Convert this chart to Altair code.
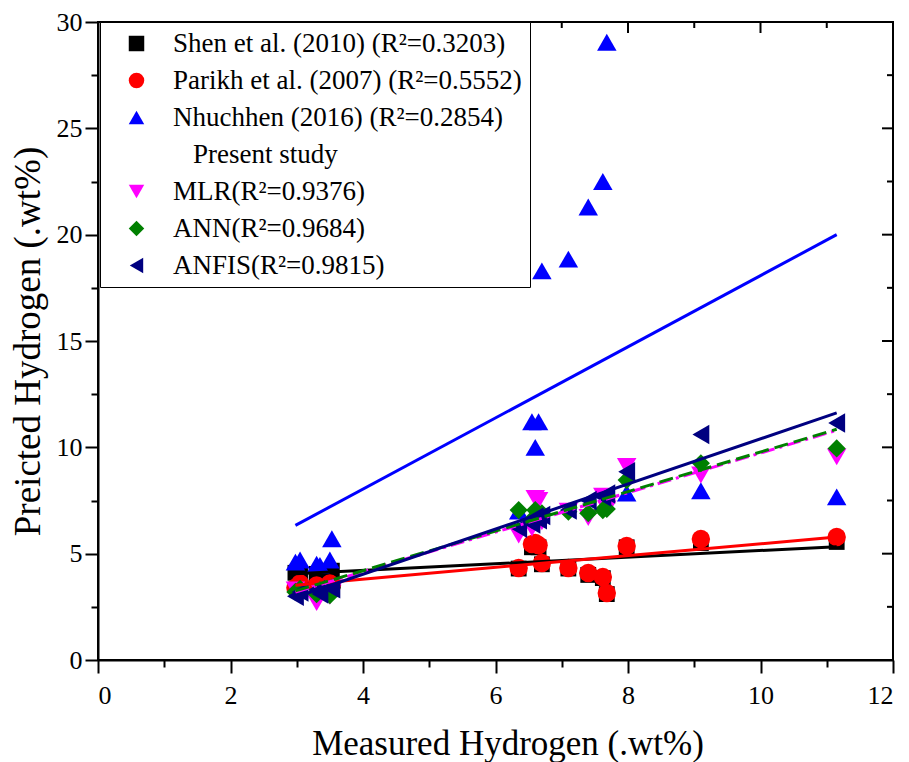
import altair as alt
import pandas as pd

# ---------------- data ----------------
measured = [2.98, 3.05, 3.3, 3.35, 3.5, 3.53,
            6.35, 6.55, 6.6, 6.65, 6.7, 7.1, 7.4, 7.62, 7.68, 7.98,
            9.1, 11.15]
shen = [4.1, 4.0, 4.05, 3.9, 4.1, 4.2,
        4.3, 5.3, 5.4, 5.3, 4.5, 4.3, 4.0, 3.85, 3.1, 5.3,
        5.5, 5.55]
parikh = [3.4, 3.6, 3.5, 3.3, 3.6, 3.5,
          4.33, 5.45, 5.5, 5.4, 4.56, 4.33, 4.09, 3.9, 3.15, 5.36,
          5.69, 5.78]
nhuchhen = [4.6, 4.7, 4.5, 4.45, 4.7, 5.7,
            7.0, 11.2, 10.0, 11.2, 18.3, 18.85, 21.3, 22.5, 29.05, 7.85,
            7.96, 7.67]
mlr = [3.3, 3.1, 2.7, 3.2, 3.0, 3.2,
       5.88, 6.2, 7.6, 7.5, 6.5, 7.0, 6.7, 7.7, 7.1, 9.1,
       8.7, 9.55]
ann = [3.2, 3.35, 3.1, 3.3, 3.05, 3.4,
       7.05, 6.6, 7.05, 6.85, 6.9, 6.97, 6.9, 7.05, 7.1, 8.46,
       9.25, 9.95]
anfis = [3.0, 3.2, 3.3, 3.1, 3.4, 3.35,
         6.2, 6.4, 6.72, 6.6, 6.8, 7.05, 7.5, 7.66, 7.8, 8.85,
         10.6, 11.14]

labels = ["Shen et al. (2010) (R\u00b2=0.3203)",
          "Parikh et al. (2007) (R\u00b2=0.5552)",
          "Nhuchhen (2016) (R\u00b2=0.2854)",
          "\u2800Present study",
          "MLR(R\u00b2=0.9376)",
          "ANN(R\u00b2=0.9684)",
          "ANFIS(R\u00b2=0.9815)"]

# fitted lines (end points)
fit_x = [2.98, 11.15]
fit_shen = [4.05, 5.33]
fit_parikh = [3.52, 5.78]
fit_nhuchhen = [6.33, 20.0]
fit_mlr = [3.2, 10.8]
fit_ann = [3.25, 10.85]
fit_anfis = [2.95, 11.62]

x_ticks = [0, 1, 2, 3, 4, 5, 6, 7, 8, 9, 10, 11, 12]
x_major = [0, 2, 4, 6, 8, 10, 12]
x_minor = [1, 3, 5, 7, 9, 11]
y_ticks = [0, 2.5, 5, 7.5, 10, 12.5, 15, 17.5, 20, 22.5, 25, 27.5, 30]
y_major = [0, 5, 10, 15, 20, 25, 30]
y_minor = [2.5, 7.5, 12.5, 17.5, 22.5, 27.5]

# ---------------- styles ----------------
colors = ["#000000", "#ff0000", "#0000ff", "transparent", "#ff00ff", "#008000", "#000080"]
shapes = ["square", "circle", "triangle-up", "circle", "triangle-down", "diamond", "triangle-left"]
sizes = {0: 250, 1: 340, 2: 380, 4: 380, 5: 330, 6: 380}
FONT = "Liberation Serif"
W, H = 795, 638

xs = alt.Scale(domain=[0, 12], nice=False, zero=False)
ys = alt.Scale(domain=[0, 30], nice=False, zero=False)
color_scale = alt.Scale(domain=labels, range=colors)
shape_scale = alt.Scale(domain=labels, range=shapes)

leg = alt.Legend(title=None, orient="none", legendX=2, legendY=0, direction="vertical",
                 labelFont=FONT, labelFontSize=27, labelColor="black", labelLimit=600,
                 symbolSize=240, symbolStrokeWidth=0, padding=8, rowPadding=9,
                 symbolOffset=15, labelOffset=23, strokeColor="black", fillColor="white")

x_axis = alt.Axis(values=x_ticks, labelExpr="datum.value % 2 == 0 ? datum.label : ''",
                  tickSize={"condition": {"test": "datum.value % 2 == 0", "value": 13}, "value": 7},
                  grid=False, domainColor="black", domainWidth=2, tickColor="black", tickWidth=2,
                  labelFont=FONT, labelFontSize=26, labelColor="black", labelPadding=9,
                  title="Measured Hydrogen (.wt%)", titleFont=FONT, titleFontSize=35,
                  titleFontWeight="normal", titleColor="black", titlePadding=18,
                  titleX=W / 2 + 12)
y_axis = alt.Axis(values=y_ticks, labelExpr="datum.value % 5 == 0 ? datum.label : ''",
                  tickSize={"condition": {"test": "datum.value % 5 == 0", "value": 13}, "value": 7},
                  grid=False, domainColor="black", domainWidth=2, tickColor="black", tickWidth=2,
                  labelFont=FONT, labelFontSize=26, labelColor="black", labelPadding=3,
                  title="Preicted Hydrogen (.wt%)", titleFont=FONT, titleFontSize=37,
                  titleFontWeight="normal", titleColor="black", titlePadding=9)

X = alt.X("x:Q", scale=xs, axis=x_axis)
Y = alt.Y("y:Q", scale=ys, axis=y_axis)

series_vals = [shen, parikh, nhuchhen, None, mlr, ann, anfis]

layers = []
for i, vals in enumerate(series_vals):
    if vals is None:
        continue
    df = pd.DataFrame({"x": measured, "y": vals, "series": labels[i]})
    layers.append(
        alt.Chart(df).mark_point(filled=True, opacity=1, size=sizes[i], strokeWidth=0).encode(
            x=X, y=Y,
            color=alt.Color("series:N", scale=color_scale, legend=leg),
            shape=alt.Shape("series:N", scale=shape_scale, legend=leg),
        )
    )

fits = [
    (fit_shen, "#000000", None),
    (fit_parikh, "#ff0000", None),
    (fit_nhuchhen, "#0000ff", None),
    (fit_mlr, "#ff00ff", [14, 5, 3, 5]),
    (fit_ann, "#008000", [14, 6]),
    (fit_anfis, "#000080", None),
]
for vals, col, dash in fits:
    df = pd.DataFrame({"x": fit_x, "y": vals})
    kw = dict(color=col, strokeWidth=3)
    if dash is not None:
        kw["strokeDash"] = dash
    layers.append(alt.Chart(df).mark_line(**kw).encode(x=X, y=Y))

# mirrored inward ticks on top and right
top_major = alt.Chart(pd.DataFrame({"x": x_major})).mark_rule(color="black", strokeWidth=2).encode(
    x=X, y=alt.value(0), y2=alt.value(11))
top_minor = alt.Chart(pd.DataFrame({"x": x_minor})).mark_rule(color="black", strokeWidth=2).encode(
    x=X, y=alt.value(0), y2=alt.value(6))
right_major = alt.Chart(pd.DataFrame({"y": y_major})).mark_rule(color="black", strokeWidth=2).encode(
    y=Y, x=alt.value(W), x2=alt.value(W - 11))
right_minor = alt.Chart(pd.DataFrame({"y": y_minor})).mark_rule(color="black", strokeWidth=2).encode(
    y=Y, x=alt.value(W), x2=alt.value(W - 6))
layers += [top_major, top_minor, right_major, right_minor]

chart = alt.layer(*layers).properties(
    width=W, height=H,
    autosize=alt.AutoSizeParams(type="none"),
    padding={"left": 90, "top": 14, "right": 8, "bottom": 102},
    background="white",
).configure_view(stroke="black", strokeWidth=2)

chart.save("out.html", embed_options={"renderer": "svg", "actions": False})
